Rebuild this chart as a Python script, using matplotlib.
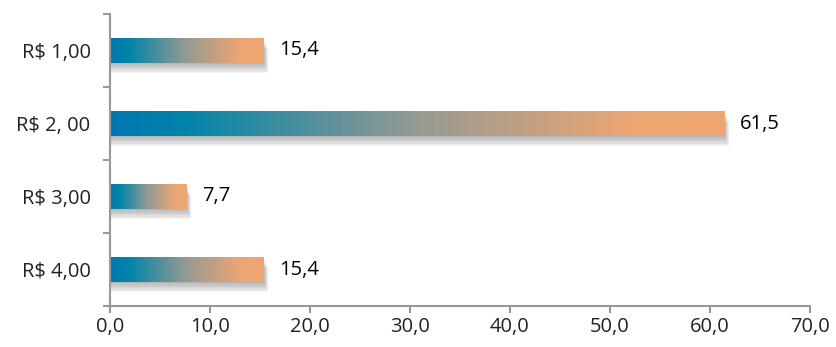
import numpy as np
import matplotlib
matplotlib.use("Agg")
import matplotlib.pyplot as plt
from matplotlib.colors import LinearSegmentedColormap
from matplotlib.patches import Rectangle

# data
categories = ["R$ 1,00", "R$ 2, 00", "R$ 3,00", "R$ 4,00"]
values = [15.4, 61.5, 7.7, 15.4]
value_labels = ["15,4", "61,5", "7,7", "15,4"]
xticks = [0, 10, 20, 30, 40, 50, 60, 70]
xtick_labels = ["0,0", "10,0", "20,0", "30,0", "40,0", "50,0", "60,0", "70,0"]

plt.rcParams['font.family'] = ['Open Sans', 'DejaVu Sans']

cmap = LinearSegmentedColormap.from_list(
    "bar", [(0.0, "#0077b2"), (0.12, "#0084a9"), (0.5, "#979a93"),
            (0.85, "#eca673"), (1.0, "#eea672")])
grad = np.linspace(0, 1, 256).reshape(1, -1)

fig = plt.figure(figsize=(8.36, 3.47), dpi=100)
ax = fig.add_axes([110/836, 1-306/347, 700/836, 292/347])

h = 0.33
ypos = np.arange(len(categories))
for y, v, lab in zip(ypos, values, value_labels):
    # soft shadow below the bar (y axis is inverted)
    for k in range(8):
        off = 0.02 + k*0.018
        ax.add_patch(Rectangle((-0.3 + k*0.06, y - h/2 + off), v + 0.3, h,
                               color="#444444", alpha=0.055, lw=0, zorder=1))
    ax.imshow(grad, cmap=cmap, aspect="auto", extent=(0, v, y + h/2, y - h/2),
              zorder=2, interpolation="bilinear")
    ax.text(v + 1.5, y, lab, va="center", ha="left", fontsize=14.5, color="black")

ax.set_xlim(0, 70)
ax.set_ylim(3.5, -0.5)
ax.set_xticks(xticks)
ax.set_xticklabels(xtick_labels, fontsize=14.5, color="#222222")
ax.set_yticks(ypos)
ax.set_yticklabels(categories, fontsize=14.5, color="#222222")
ax.set_yticks(np.arange(-0.5, 4, 1), minor=True)
ax.tick_params(axis="y", which="major", length=0, pad=14)
ax.tick_params(axis="y", which="minor", length=5, color="#999999", width=1.5)
ax.tick_params(axis="x", length=5, color="#999999", width=1.5, pad=3)
for s in ["top", "right"]:
    ax.spines[s].set_visible(False)
for s in ["left", "bottom"]:
    ax.spines[s].set_color("#999999")
    ax.spines[s].set_linewidth(1.5)
ax.spines["left"].set_zorder(5)

fig.savefig("out.png", dpi=100)
